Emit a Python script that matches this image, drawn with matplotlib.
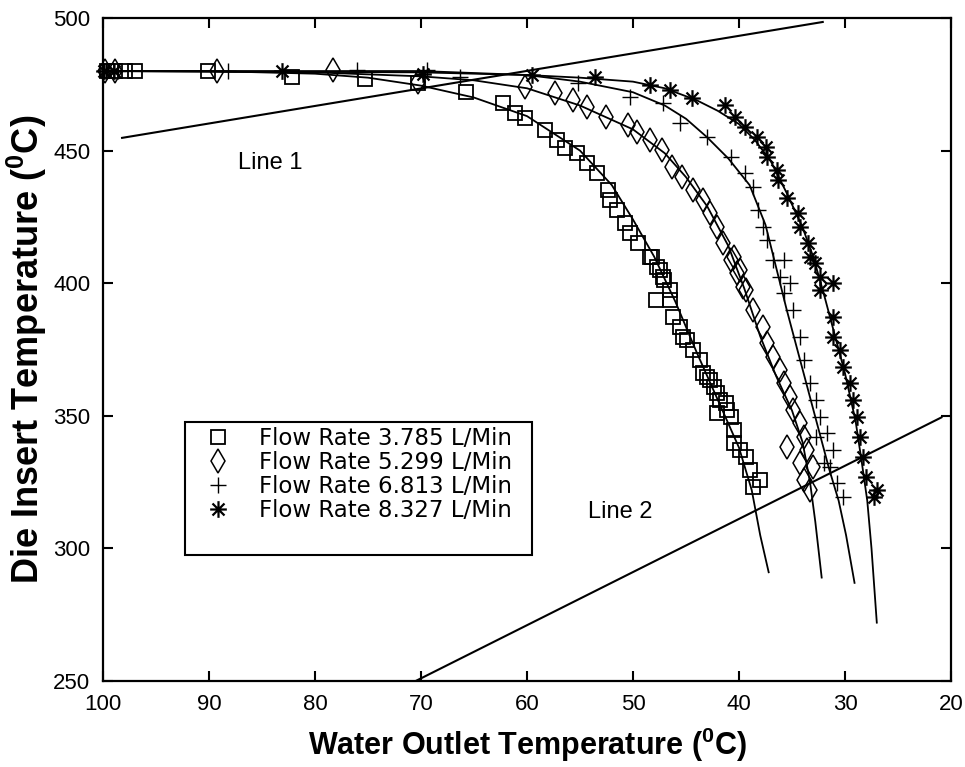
import matplotlib
matplotlib.use("Agg")
import matplotlib.pyplot as plt
import matplotlib.path as mpath
from matplotlib.patches import Rectangle

plt.rcParams['font.family'] = ['Liberation Sans', 'DejaVu Sans']
plt.rcParams['mathtext.fontset'] = 'custom'
plt.rcParams['mathtext.rm'] = 'Liberation Sans'
plt.rcParams['mathtext.bf'] = 'Liberation Sans:bold'

# ---- measured points: water outlet temperature (x) vs die insert temperature (y)
sq_x = [99.6, 98.9, 97.9, 97.0, 90.1, 82.2, 75.3, 70.3, 65.8, 62.3, 61.1, 60.2, 58.3,
        57.2, 56.4, 55.3, 54.3, 53.4, 52.4, 52.2, 51.5, 50.8, 50.3, 49.5, 48.4, 48.2,
        47.7, 47.45, 47.2, 47.1, 46.5, 47.8, 46.5, 46.2, 45.6, 45.3, 44.9, 44.3, 43.7,
        43.4, 43.0, 42.7, 42.4, 42.1, 41.8, 41.2, 42.1, 41.1, 40.8, 40.5, 40.5, 39.9,
        39.3, 39.0, 38.7, 38.0]
sq_y = [480.0, 480.0, 480.0, 480.0, 480.0, 477.8, 477.0, 475.5, 472.0, 468.0, 464.2,
        462.3, 457.8, 454.0, 451.0, 449.0, 445.3, 441.5, 435.0, 431.4, 427.6, 422.7,
        419.0, 415.0, 410.0, 410.0, 406.0, 405.0, 402.3, 401.2, 397.4, 393.7, 393.7,
        387.4, 383.6, 379.7, 378.6, 374.8, 371.0, 366.0, 364.6, 363.5, 361.0, 358.6,
        355.9, 354.7, 350.9, 352.2, 349.7, 344.6, 339.6, 337.1, 334.6, 329.6, 323.3,
        325.8]

dm_x = [99.8, 98.9, 89.2, 78.3, 70.3, 60.2, 57.4, 55.7, 54.3, 52.5, 50.5, 49.6, 48.4,
        47.3, 46.3, 45.4, 44.3, 43.4, 42.7, 42.1, 41.5, 40.8, 40.5, 40.2, 39.9, 39.6,
        39.3, 38.7, 37.7, 37.4, 36.8, 36.1, 35.8, 35.2, 34.9, 34.2, 33.9, 35.5, 33.6,
        34.2, 33.0, 33.9, 33.3]
dm_y = [480.0, 480.0, 480.0, 480.4, 475.9, 474.0, 471.7, 469.0, 466.4, 462.7, 459.7,
        457.0, 454.0, 450.2, 443.8, 440.0, 435.1, 431.4, 426.5, 421.2, 415.2, 408.7,
        410.0, 403.8, 405.0, 398.6, 397.4, 389.9, 383.6, 377.3, 372.3, 367.3, 362.3,
        357.2, 352.2, 347.2, 342.1, 338.4, 337.1, 332.1, 330.8, 325.8, 322.0]

pl_x = [99.7, 98.6, 88.2, 76.0, 69.4, 66.3, 55.2, 50.3, 47.2, 45.6, 43.0, 40.8, 39.4,
        38.7, 38.2, 37.7, 37.4, 36.8, 36.1, 35.8, 35.8, 35.2, 34.9, 34.2, 33.9, 33.3,
        32.7, 32.4, 31.7, 32.7, 31.1, 32.0, 31.4, 30.8, 30.2]
pl_y = [480.0, 480.0, 480.0, 480.4, 480.4, 477.8, 475.5, 470.2, 468.0, 460.4, 455.1,
        447.6, 441.5, 436.3, 427.6, 421.2, 416.3, 408.7, 402.3, 396.3, 408.7, 400.0,
        389.9, 379.8, 371.0, 362.3, 356.0, 349.7, 343.4, 342.1, 337.1, 332.1, 330.8,
        324.5, 319.5]

st_x = [99.9, 99.0, 83.1, 69.8, 59.5, 53.6, 48.4, 46.5, 44.4, 41.3, 40.4, 39.4, 38.3,
        37.5, 37.4, 36.4, 36.3, 35.5, 34.4, 34.2, 33.5, 33.3, 32.8, 32.4, 32.4, 31.1,
        31.1, 31.1, 30.5, 30.2, 29.5, 29.2, 28.9, 28.6, 28.3, 28.0, 27.0, 27.3]
st_y = [480.0, 480.0, 480.0, 478.9, 478.5, 477.8, 474.7, 472.8, 469.8, 467.2, 462.7,
        458.9, 455.1, 451.4, 447.6, 442.7, 438.9, 432.1, 426.5, 421.2, 415.2, 410.0,
        407.6, 402.3, 397.4, 400.0, 387.3, 379.8, 374.8, 368.5, 362.3, 356.0, 349.7,
        342.1, 334.6, 327.0, 322.0, 319.5]

# ---- fitted curves (extended below the last measured point)
fit_sq_x = [100, 90, 80, 75, 70, 65, 60, 55, 52, 50, 48, 46, 44, 42, 40, 38.8, 38.0, 37.2]
fit_sq_y = [480, 480, 479, 477.5, 474.5, 470, 463, 450, 437, 424, 410, 393, 374, 356,
            338, 322, 305, 291]
fit_dm_x = [100, 80, 70, 65, 60, 55, 50, 47, 45, 43, 41, 39.5, 38, 36.5, 35, 34, 33.3,
            32.8, 32.2]
fit_dm_y = [480, 479.5, 478, 476.5, 473.5, 467, 458, 449, 440, 429, 414, 398, 380, 365,
            352, 340, 325, 310, 289]
fit_pl_x = [100, 70, 60, 55, 50, 47, 45, 43, 41, 39, 37.5, 36.5, 35.5, 34.5, 33.5, 32.5,
            31.5, 30.6, 29.9, 29.1]
fit_pl_y = [480, 480, 478.5, 476, 472, 467, 462, 455, 447, 437, 422, 406, 390, 375, 360,
            345, 330, 318, 305, 287]
fit_st_x = [100, 70, 60, 55, 50, 47, 44, 42, 40, 38.5, 37, 35.5, 34, 33, 32, 31, 30, 29,
            28.4, 27.9, 27.5, 27.0]
fit_st_y = [480, 479.5, 478.5, 477.5, 476, 473.5, 469, 465, 460, 454, 446, 434, 421, 410,
            396, 381, 366, 348, 332, 318, 300, 272]

# ---- reference lines
line1_x = [98.2, 32.1]
line1_y = [454.8, 498.5]
line2_x = [70.5, 20.9]
line2_y = [250.0, 349.4]

labels = ['Flow Rate 3.785 L/Min', 'Flow Rate 5.299 L/Min',
          'Flow Rate 6.813 L/Min', 'Flow Rate 8.327 L/Min']
x_ticks = [100, 90, 80, 70, 60, 50, 40, 30, 20]
y_ticks = [250, 300, 350, 400, 450, 500]

# asterisk marker: horizontal, vertical and two diagonal strokes
M, L = mpath.Path.MOVETO, mpath.Path.LINETO
d = 0.72
asterisk = mpath.Path([(-1, 0), (1, 0), (0, -1), (0, 1), (-d, -d), (d, d), (-d, d), (d, -d)],
                      [M, L, M, L, M, L, M, L])

W, H = 965, 767
fig = plt.figure(figsize=(W / 100, H / 100), dpi=100)
ax = fig.add_axes([103 / W, 1 - 681 / H, 848 / W, 663 / H])

lw_fit = 1.3
for fx, fy in [(fit_sq_x, fit_sq_y), (fit_dm_x, fit_dm_y), (fit_pl_x, fit_pl_y),
               (fit_st_x, fit_st_y)]:
    ax.plot(fx, fy, color='black', lw=lw_fit)
ax.plot(line1_x, line1_y, color='black', lw=1.5)
ax.plot(line2_x, line2_y, color='black', lw=1.5)

h1, = ax.plot(sq_x, sq_y, ls='none', marker='s', ms=10, mfc='none', mec='black',
              mew=1.3, clip_on=False, label=labels[0])
h2, = ax.plot(dm_x, dm_y, ls='none', marker='d', ms=12, mfc='none', mec='black',
              mew=1.1, clip_on=False, label=labels[1])
h3, = ax.plot(pl_x, pl_y, ls='none', marker='+', ms=11, mec='black',
              mew=1.0, clip_on=False, label=labels[2])
h4, = ax.plot(st_x, st_y, ls='none', marker=asterisk, ms=12, mec='black',
              mew=1.6, clip_on=False, label=labels[3])

ax.text(87.3, 445.3, 'Line 1', fontsize=17, va='center', ha='left')
ax.text(54.2, 313.7, 'Line 2', fontsize=17, va='center', ha='left')

ax.set_xlim(100, 20)
ax.set_ylim(250, 500)
ax.set_xticks(x_ticks)
ax.set_yticks(y_ticks)
ax.tick_params(direction='in', length=7, width=1.5, top=True, right=True,
               labelsize=16, pad=9)
for s in ax.spines.values():
    s.set_linewidth(1.6)

ax.set_xlabel(r'Water Outlet Temperature ($\mathbf{^0}$C)', fontsize=22,
              fontweight='bold', labelpad=8)
ax.set_ylabel(r'Die Insert Temperature ($\mathbf{^0}$C)', fontsize=26,
              fontweight='bold', labelpad=3)

# legend entries without frame, boxed by a separate rectangle
leg = fig.legend(handles=[h1, h2, h3, h4], loc='upper left',
                 bbox_to_anchor=(207 / W, 1 - 427 / H), bbox_transform=fig.transFigure,
                 borderaxespad=0, frameon=False, prop={'family': 'DejaVu Sans', 'size': 16.5},
                 handlelength=1.0, handletextpad=1.25, labelspacing=0.05, borderpad=0.0)
fig.add_artist(Rectangle((185 / W, 1 - 555 / H), 347 / W, 133 / H,
                         transform=fig.transFigure, fill=False, edgecolor='black',
                         linewidth=1.5))

fig.savefig('out.png', dpi=100)
